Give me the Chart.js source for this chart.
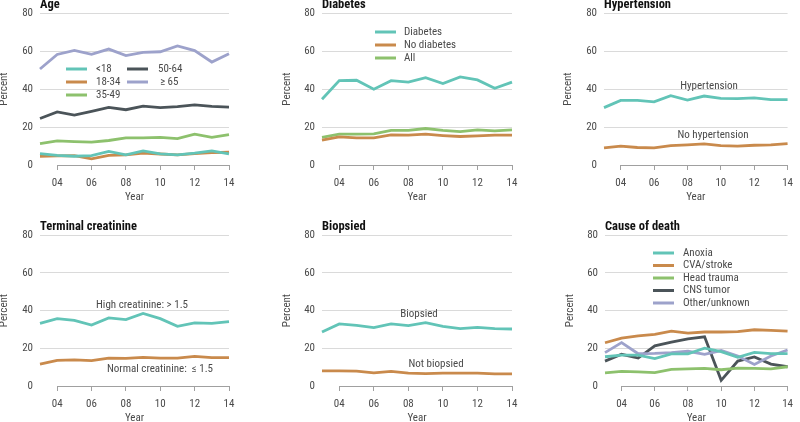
<!DOCTYPE html>
<html><head><meta charset="utf-8">
<script src="https://cdn.jsdelivr.net/npm/chart.js@4.4.1/dist/chart.umd.min.js"></script>
<style>
html,body{margin:0;padding:0;background:#fff;}
body{width:800px;height:422px;overflow:hidden;position:relative;}
canvas{position:absolute;}
</style></head>
<body>
<canvas id="c1"></canvas><canvas id="c2"></canvas><canvas id="c3"></canvas>
<canvas id="c4"></canvas><canvas id="c5"></canvas><canvas id="c6"></canvas>
<script>
// ---------------- DATA ----------------
const years = ['03','04','05','06','07','08','09','10','11','12','13','14'];
const yTickValues = [0, 20, 40, 60, 80];

// Age
const ageUnder18 = [6.0,5.1,4.6,4.9,7.2,5.3,7.4,5.8,5.3,6.2,7.4,5.8];
const age18to34  = [4.6,4.8,4.9,3.2,5.1,5.3,6.3,5.8,5.3,6.0,6.5,6.7];
const age35to49  = [11.3,12.7,12.3,12.0,12.9,14.3,14.3,14.5,13.9,16.2,14.6,16.0];
const age50to64  = [24.5,27.9,26.3,28.2,30.3,29.1,31.0,30.2,30.7,31.6,30.9,30.5];
const age65plus  = [50.5,58.2,60.3,58.2,61.0,57.6,59.3,59.6,62.7,60.2,54.2,58.6];
// Diabetes
const diabetesYes = [34.6,44.4,44.6,39.9,44.4,43.6,46.0,42.9,46.4,44.8,40.4,43.6];
const diabetesNo  = [13.1,14.8,14.3,14.3,15.9,15.7,16.2,15.5,15.0,15.3,15.7,15.7];
const diabetesAll = [14.6,16.2,16.2,16.4,18.2,18.2,19.2,18.2,17.6,18.5,18.0,18.5];
// Hypertension
const htnYes = [30.2,34.0,34.0,33.2,36.5,34.2,36.3,35.1,34.9,35.3,34.4,34.4];
const htnNo  = [9.0,9.9,9.2,9.0,10.2,10.6,11.1,10.2,9.9,10.4,10.6,11.3];
// Terminal creatinine
const creatHigh   = [33.2,35.7,34.8,32.3,36.1,35.2,38.4,35.7,31.6,33.4,33.2,34.1];
const creatNormal = [11.6,13.6,13.8,13.4,14.8,14.6,15.2,14.8,14.8,15.7,15.0,15.0];
// Biopsied
const biopsyYes = [28.6,32.9,32.1,30.9,32.9,32.0,33.6,31.6,30.4,31.1,30.4,30.2];
const biopsyNo  = [8.0,8.0,7.9,7.0,7.7,6.8,6.6,6.8,6.8,6.8,6.4,6.4];
// Cause of death
const codAnoxia = [15.5,16.4,16.4,14.5,17.0,17.0,20.0,18.2,15.2,17.8,17.1,17.1];
const codStroke = [22.9,25.4,26.6,27.3,29.1,28.0,28.6,28.6,28.8,29.8,29.5,29.1];
const codTrauma = [7.0,7.7,7.5,7.1,8.8,9.1,9.3,8.6,9.5,9.3,9.1,10.2];
const codCNS    = [13.2,16.8,14.8,21.3,23.2,25.0,26.1,3.0,13.2,15.4,11.6,10.2];
const codOther  = [17.7,23.0,17.1,17.3,17.7,18.4,16.8,18.8,15.9,11.4,15.9,19.1];

// ---------------- STYLE ----------------
const FONT = "'Liberation Sans Narrow', 'Roboto Condensed', 'DejaVu Sans Condensed', sans-serif";
const TEAL = '#62c4b7', ORANGE = '#c98a4c', GREEN = '#8dc16d', DARK = '#4b5459', LAVENDER = '#9da2cb';
const GRID = '#dadada', AXIS = '#a0a0a0', TEXT = '#4a4a4a';

function ds(label, data, color){
  return {label, data, borderColor: color, backgroundColor: color, borderWidth: 2.8,
          pointRadius: 0, tension: 0, fill: false};
}

const panels = [
  {id:'c1', left:-2, top:0, w:272, h:210, padTop:13, yW:42, padRight:41, xH:45, yearPad:6,
   title:'Age',
   datasets:[ds('<18', ageUnder18, TEAL), ds('18-34', age18to34, ORANGE), ds('35-49', age35to49, GREEN),
             ds('50-64', age50to64, DARK), ds('≥ 65', age65plus, LAVENDER)],
   legend:[{i:0,x:66,y:69,tx:96},{i:1,x:66,y:82,tx:96},{i:2,x:66,y:95,tx:96},
           {i:3,x:127,y:69,tx:158},{i:4,x:127,y:82,tx:160}],
   notes:[]},
  {id:'c2', left:281, top:0, w:259, h:210, padTop:13, yW:41, padRight:28, xH:45, yearPad:6,
   title:'Diabetes',
   datasets:[ds('Diabetes', diabetesYes, TEAL), ds('No diabetes', diabetesNo, ORANGE), ds('All', diabetesAll, GREEN)],
   legend:[{i:0,x:375,y:32,tx:404},{i:1,x:375,y:45,tx:404},{i:2,x:375,y:58,tx:404}],
   notes:[]},
  {id:'c3', left:562, top:0, w:238, h:210, padTop:13, yW:42, padRight:6, xH:45, yearPad:6,
   title:'Hypertension',
   datasets:[ds('Hypertension', htnYes, TEAL), ds('No hypertension', htnNo, ORANGE)],
   legend:[],
   notes:[{t:'Hypertension', x:709, y:86},{t:'No hypertension', x:713, y:135}]},
  {id:'c4', left:-2, top:210, w:272, h:216, padTop:25, yW:42, padRight:41, xH:40, yearPad:1,
   title:'Terminal creatinine',
   datasets:[ds('High creatinine: > 1.5', creatHigh, TEAL), ds('Normal creatinine: ≤ 1.5', creatNormal, ORANGE)],
   legend:[],
   notes:[{t:'High creatinine: > 1.5', x:142, y:305},{t:'Normal creatinine:  ≤ 1.5', x:160, y:369}]},
  {id:'c5', left:281, top:210, w:259, h:216, padTop:25, yW:41, padRight:28, xH:40, yearPad:1,
   title:'Biopsied',
   datasets:[ds('Biopsied', biopsyYes, TEAL), ds('Not biopsied', biopsyNo, ORANGE)],
   legend:[],
   notes:[{t:'Biopsied', x:419, y:314},{t:'Not biopsied', x:436, y:364}]},
  {id:'c6', left:564, top:210, w:236, h:216, padTop:25, yW:41, padRight:4, xH:40, yearPad:1,
   title:'Cause of death',
   datasets:[ds('Anoxia', codAnoxia, TEAL), ds('CVA/stroke', codStroke, ORANGE), ds('Head trauma', codTrauma, GREEN),
             ds('Other/unknown', codOther, LAVENDER), ds('CNS tumor', codCNS, DARK)],
   legend:[{i:0,x:653,y:253,tx:683},{i:1,x:653,y:265.5,tx:683},{i:2,x:653,y:278,tx:683},
           {i:4,x:653,y:290.5,tx:683},{i:3,x:653,y:303,tx:683}],
   notes:[]}
];

function alignPx(v){ return Math.round(v - 0.5) + 0.5; }

function makeDecor(p){
  return {
    id:'decor_'+p.id,
    beforeDatasetsDraw(chart){
      const ctx = chart.ctx, area = chart.chartArea;
      const xs = chart.scales.x, ys = chart.scales.y;
      ctx.save();
      // horizontal grid lines at the non-zero tick values, placed by the y scale
      ctx.strokeStyle = GRID; ctx.lineWidth = 1;
      yTickValues.forEach(v => {
        if (v === 0) return;
        const py = alignPx(ys.getPixelForValue(v));
        ctx.beginPath(); ctx.moveTo(area.left, py); ctx.lineTo(area.right, py); ctx.stroke();
      });
      // x axis baseline from 04 to 14
      const y0 = alignPx(ys.getPixelForValue(0));
      ctx.strokeStyle = AXIS;
      ctx.beginPath();
      ctx.moveTo(alignPx(xs.getPixelForValue(1)), y0);
      ctx.lineTo(alignPx(xs.getPixelForValue(years.length - 1)), y0);
      ctx.stroke();
      ctx.restore();
    },
    afterDraw(chart){
      const ctx = chart.ctx, area = chart.chartArea;
      const ys = chart.scales.y;
      ctx.save();
      // y tick labels, placed by the y scale
      ctx.font = '11px ' + FONT;
      ctx.fillStyle = TEXT; ctx.textAlign = 'right'; ctx.textBaseline = 'middle';
      yTickValues.forEach(v => {
        ctx.fillText(String(v), area.left - 7, ys.getPixelForValue(v));
      });
      // panel title
      ctx.font = 'bold 12.5px ' + FONT;
      ctx.fillStyle = '#111'; ctx.textAlign = 'left'; ctx.textBaseline = 'alphabetic';
      ctx.fillText(p.title, area.left, area.top - 5);
      // legend / direct labels
      ctx.font = '11px ' + FONT;
      ctx.textBaseline = 'middle';
      p.legend.forEach(e => {
        const d = chart.data.datasets[e.i];
        ctx.strokeStyle = d.borderColor; ctx.lineWidth = 3;
        ctx.beginPath(); ctx.moveTo(e.x - p.left, e.y - p.top); ctx.lineTo(e.x + 21 - p.left, e.y - p.top); ctx.stroke();
        ctx.fillStyle = TEXT; ctx.textAlign = 'left';
        ctx.fillText(d.label, e.tx - p.left, e.y - p.top);
      });
      p.notes.forEach(n => {
        ctx.fillStyle = TEXT; ctx.textAlign = 'center';
        ctx.fillText(n.t, n.x - p.left, n.y - p.top);
      });
      ctx.restore();
    }
  };
}

Chart.defaults.font.family = FONT;
Chart.defaults.color = TEXT;

panels.forEach(p => {
  const cv = document.getElementById(p.id);
  cv.width = p.w; cv.height = p.h;
  cv.style.left = p.left + 'px'; cv.style.top = p.top + 'px';
  new Chart(cv, {
    type: 'line',
    data: { labels: years, datasets: p.datasets },
    options: {
      responsive: false, animation: false, devicePixelRatio: 1,
      layout: { padding: { top: p.padTop, left: 0, right: p.padRight, bottom: 0 } },
      plugins: { legend: { display: false }, tooltip: { enabled: false }, title: { display: false } },
      scales: {
        x: {
          type: 'category', offset: false,
          afterFit: s => { s.height = p.xH; },
          border: { display: false },
          grid: { drawOnChartArea: false, drawTicks: true, tickLength: 5,
                  color: c => (c.index % 2 === 1 ? AXIS : 'rgba(0,0,0,0)'),
                  tickColor: c => (c.index % 2 === 1 ? AXIS : 'rgba(0,0,0,0)') },
          ticks: { autoSkip: false, maxRotation: 0, minRotation: 0, padding: 7,
                   font: { size: 11 }, color: TEXT,
                   callback: (v, i) => (i % 2 === 1 ? years[i] : '') },
          title: { display: true, text: 'Year', color: TEXT, font: { size: 11 },
                   padding: { top: 0, bottom: p.yearPad } }
        },
        y: {
          type: 'linear', min: yTickValues[0], max: yTickValues[yTickValues.length - 1],
          afterFit: s => { s.width = p.yW; },
          border: { display: false },
          grid: { display: false, drawTicks: false },
          ticks: { display: false, stepSize: yTickValues[1] - yTickValues[0], autoSkip: false },
          title: { display: true, text: 'Percent', color: TEXT, font: { size: 11 }, padding: 0 }
        }
      }
    },
    plugins: [makeDecor(p)]
  });
});
</script>
</body></html>
